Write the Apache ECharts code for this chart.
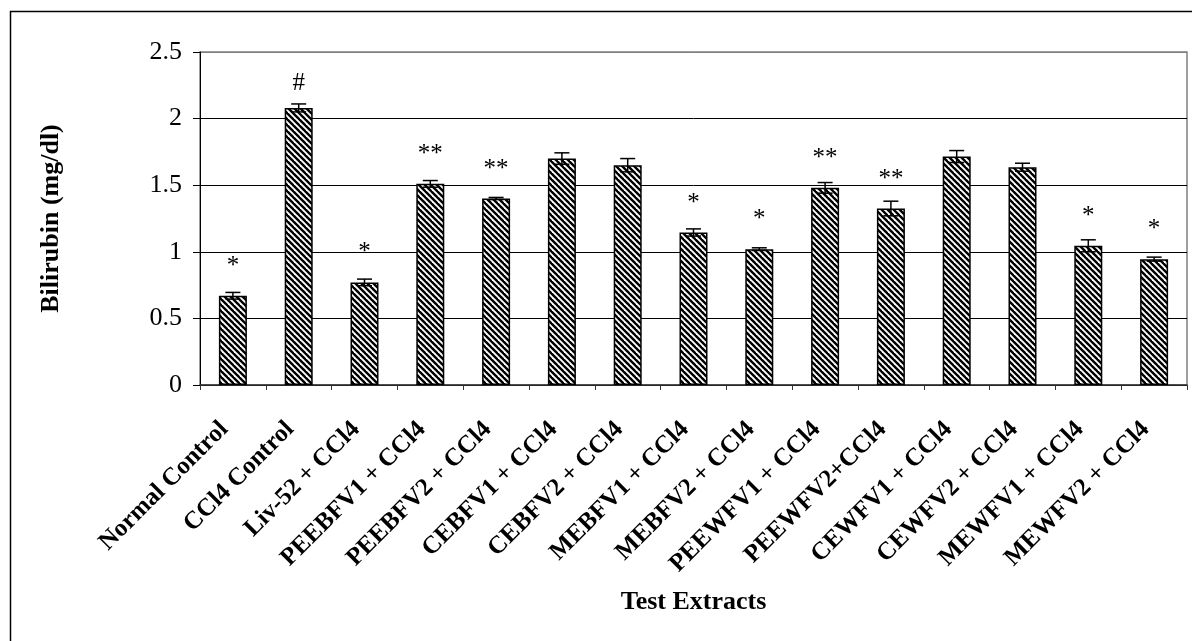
<!DOCTYPE html>
<html>
<head>
<meta charset="utf-8">
<script src="https://cdn.jsdelivr.net/npm/echarts@6/dist/echarts.min.js"></script>
<style>
  html, body { margin: 0; padding: 0; background: #fff; }
  #chart { width: 1192px; height: 641px; }
</style>
</head>
<body>
<div id="chart"></div>
<script>
const categories = [
  'Normal Control', 'CCl4 Control', 'Liv-52 + CCl4', 'PEEBFV1 + CCl4', 'PEEBFV2 + CCl4',
  'CEBFV1 + CCl4', 'CEBFV2 + CCl4', 'MEBFV1 + CCl4', 'MEBFV2 + CCl4', 'PEEWFV1 + CCl4',
  'PEEWFV2+CCl4', 'CEWFV1 + CCl4', 'CEWFV2 + CCl4', 'MEWFV1 + CCl4', 'MEWFV2 + CCl4'
];
const bilirubin = [0.67, 2.08, 0.77, 1.51, 1.40, 1.70, 1.65, 1.145, 1.02, 1.48, 1.325, 1.715, 1.635, 1.045, 0.945];
const errors =    [0.025, 0.03, 0.025, 0.025, 0.008, 0.043, 0.05, 0.027, 0.01, 0.04, 0.055, 0.045, 0.03, 0.045, 0.015];
const marks = ['*', '#', '*', '**', '**', '', '', '*', '*', '**', '**', '', '', '*', '*'];
const yTicks = [0, 0.5, 1, 1.5, 2, 2.5];

// hatch pattern
const tile = document.createElement('canvas');
tile.width = 6; tile.height = 6;
const ctx = tile.getContext('2d');
ctx.fillStyle = '#fff';
ctx.fillRect(0, 0, 6, 6);
ctx.strokeStyle = '#000';
ctx.lineWidth = 2.4;
[-6, 0, 6].forEach(o => {
  ctx.beginPath();
  ctx.moveTo(o - 1, -1);
  ctx.lineTo(o + 7, 7);
  ctx.stroke();
});

const serif = '"Liberation Serif", "Times New Roman", serif';
const chart = echarts.init(document.getElementById('chart'), null, { renderer: 'canvas' });

const barData = bilirubin.map((v, i) => ({
  value: v,
  label: { formatter: marks[i], distance: marks[i] === '#' ? 12 : 17 }
}));
const errData = bilirubin.map((v, i) => [i, v - errors[i], v + errors[i]]);

chart.setOption({
  animation: false,
  backgroundColor: '#fff',
  grid: {
    left: 200, right: 5, top: 52, bottom: 256,
    show: true, borderColor: '#808080', borderWidth: 1.5, backgroundColor: 'transparent'
  },
  graphic: [{
    type: 'rect',
    shape: { x: 10.5, y: 11.5, width: 1300, height: 800 },
    style: { fill: 'none', stroke: '#000', lineWidth: 1.5 },
    silent: true, z: 100
  }],
  xAxis: {
    type: 'category',
    data: categories,
    name: 'Test Extracts',
    nameLocation: 'middle',
    nameGap: 204,
    nameTextStyle: { fontFamily: serif, fontWeight: 'bold', fontSize: 26, color: '#000' },
    axisLine: { lineStyle: { color: '#333', width: 1.5 } },
    axisTick: { show: true, length: 5, lineStyle: { color: '#333' } },
    axisLabel: {
      rotate: 45, interval: 0, margin: 32, padding: [0, 12, 0, 0],
      fontFamily: serif, fontWeight: 'bold', fontSize: 25, color: '#000'
    }
  },
  yAxis: {
    type: 'value',
    min: 0, max: 2.5, interval: 0.5,
    name: 'Bilirubin (mg/dl)',
    nameLocation: 'middle',
    nameGap: 136,
    nameTextStyle: { fontFamily: serif, fontWeight: 'bold', fontSize: 26, color: '#000' },
    axisLine: { show: true, lineStyle: { color: '#000', width: 1 } },
    axisTick: { show: true, length: 7, lineStyle: { color: '#000' } },
    axisLabel: {
      margin: 18, fontFamily: serif, fontSize: 26, color: '#000',
      formatter: v => String(v)
    },
    splitLine: { show: true, lineStyle: { color: ['#000', '#000', '#000', '#000', '#000', '#808080'], width: 1 } }
  },
  series: [{
    type: 'bar',
    data: barData,
    barWidth: 28,
    itemStyle: {
      color: { image: tile, repeat: 'repeat' },
      borderColor: '#000',
      borderWidth: 1.5
    },
    label: {
      show: true, position: 'top',
      fontFamily: serif, fontSize: 25, color: '#000'
    },
    z: 2
  }, {
    type: 'custom',
    data: errData,
    z: 5,
    renderItem: (params, api) => {
      const x = api.value(0);
      const lo = api.coord([x, api.value(1)]);
      const hi = api.coord([x, api.value(2)]);
      const cap = 7.5;
      const st = { stroke: '#000', lineWidth: 1.5 };
      return {
        type: 'group',
        children: [
          { type: 'line', shape: { x1: lo[0], y1: lo[1], x2: hi[0], y2: hi[1] }, style: st },
          { type: 'line', shape: { x1: hi[0] - cap, y1: hi[1], x2: hi[0] + cap, y2: hi[1] }, style: st },
          { type: 'line', shape: { x1: lo[0] - cap, y1: lo[1], x2: lo[0] + cap, y2: lo[1] }, style: st }
        ]
      };
    }
  }]
});
</script>
</body>
</html>
